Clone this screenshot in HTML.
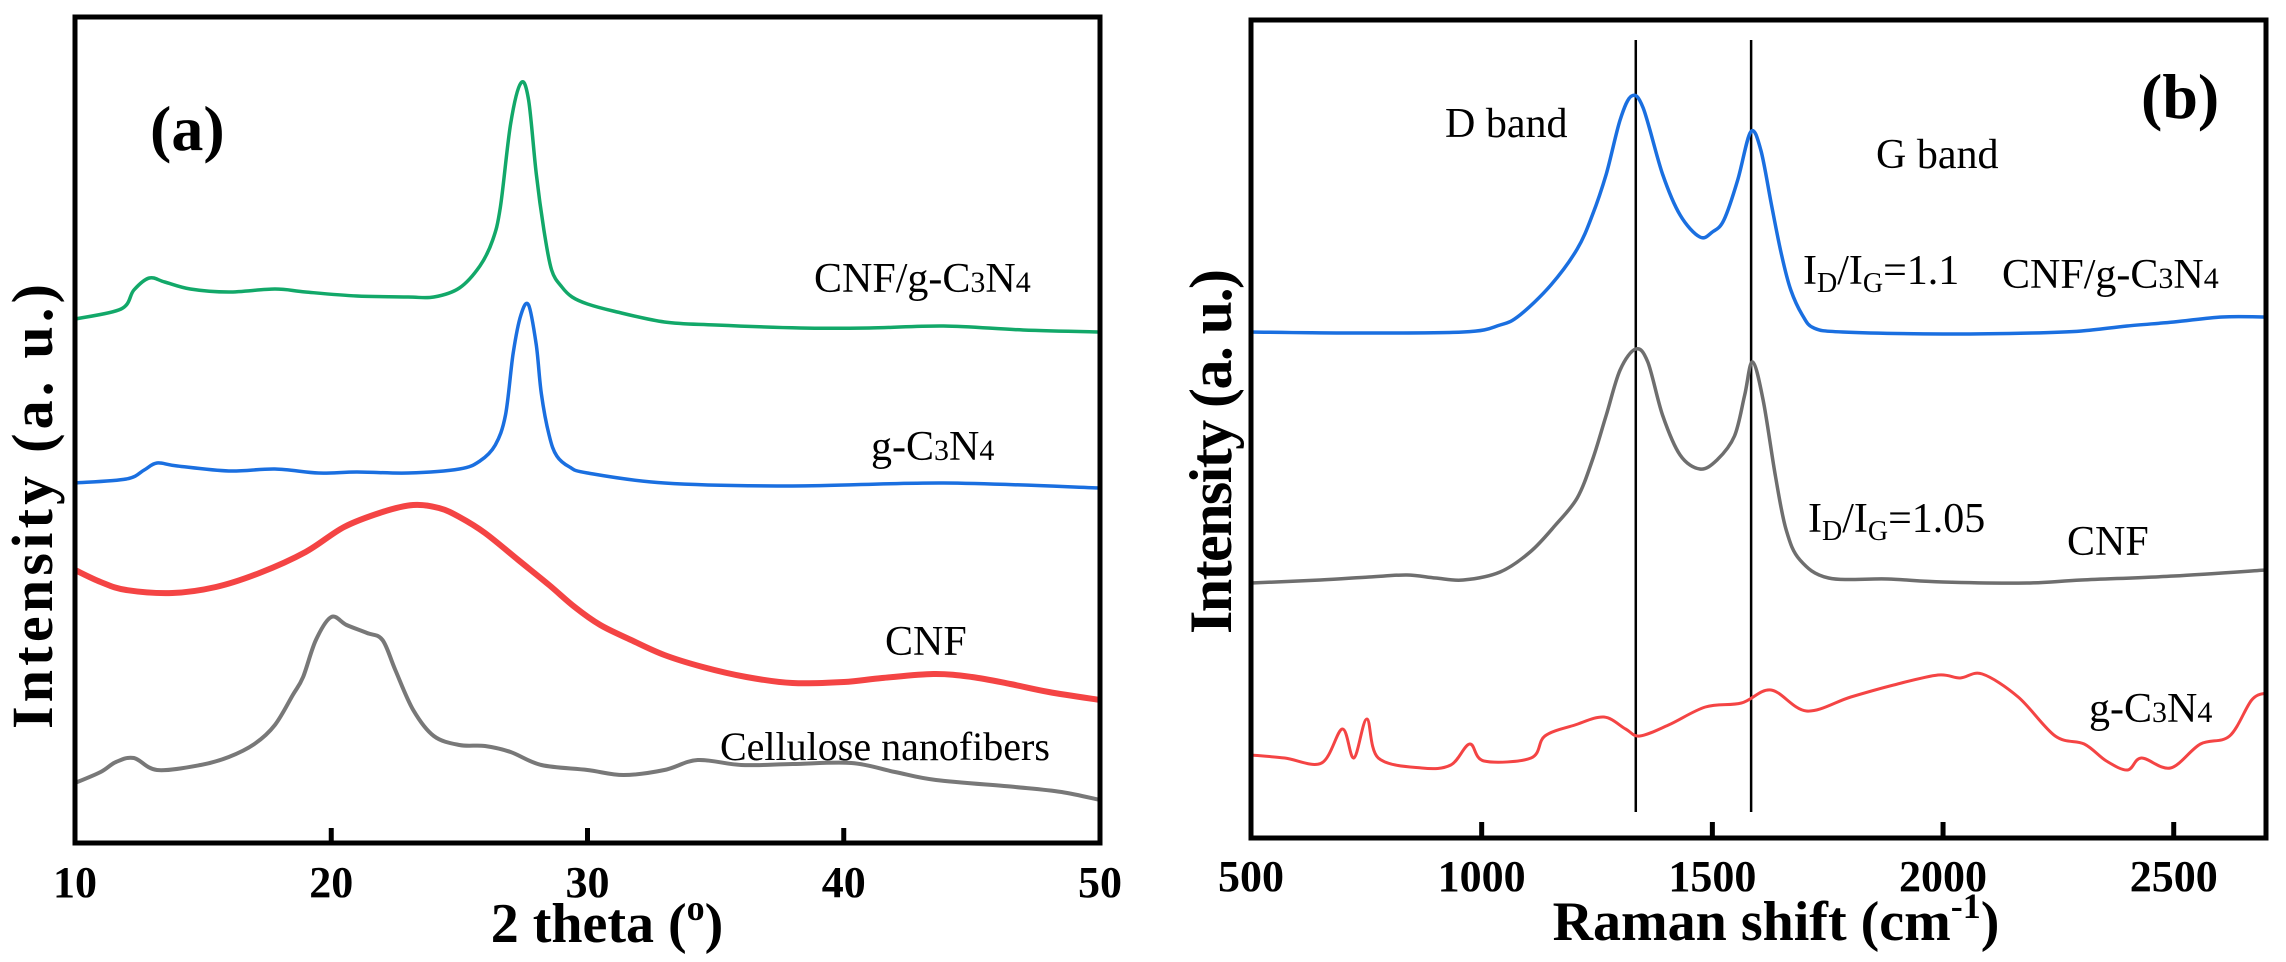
<!DOCTYPE html>
<html><head><meta charset="utf-8">
<style>
html,body{margin:0;padding:0;background:#fff;}
svg{display:block;font-family:"Liberation Serif","Times New Roman",serif;}
</style></head>
<body>
<svg id="fig" width="2286" height="962" viewBox="0 0 2286 962" xmlns="http://www.w3.org/2000/svg">
<g id="panelA"></g>
<g id="panelB"></g>
<!-- panel a text -->
<text x="150" y="150" font-size="64" font-weight="bold">(a)</text>
<text x="814" y="292" font-size="42">CNF/g-C<tspan font-size="30">3</tspan>N<tspan font-size="30">4</tspan></text>
<text x="871" y="460" font-size="42">g-C<tspan font-size="30">3</tspan>N<tspan font-size="30">4</tspan></text>
<text x="885" y="655" font-size="42">CNF</text>
<text x="720" y="760" font-size="40">Cellulose nanofibers</text>
<text x="607" y="942" font-size="56" font-weight="bold" text-anchor="middle">2 theta (<tspan font-size="36" dy="-22">o</tspan><tspan dy="22">)</tspan></text>
<text transform="translate(52,729) rotate(-90)" font-size="58" font-weight="bold" textLength="445" lengthAdjust="spacing">Intensity (a. u.)</text>
<!-- panel b text -->
<text x="2141" y="118" font-size="64" font-weight="bold">(b)</text>
<text x="1445" y="137" font-size="42">D band</text>
<text x="1876" y="168" font-size="42">G band</text>
<text x="1803" y="284" font-size="42">I<tspan font-size="28" dy="8">D</tspan><tspan dy="-8">/I</tspan><tspan font-size="28" dy="8">G</tspan><tspan dy="-8">=1.1</tspan></text>
<text x="2002" y="288" font-size="42">CNF/g-C<tspan font-size="30">3</tspan>N<tspan font-size="30">4</tspan></text>
<text x="1808" y="532" font-size="42">I<tspan font-size="28" dy="8">D</tspan><tspan dy="-8">/I</tspan><tspan font-size="28" dy="8">G</tspan><tspan dy="-8">=1.05</tspan></text>
<text x="2067" y="555" font-size="42">CNF</text>
<text x="2089" y="722" font-size="42">g-C<tspan font-size="30">3</tspan>N<tspan font-size="30">4</tspan></text>
<text x="1776" y="940" font-size="56" font-weight="bold" text-anchor="middle">Raman shift (cm<tspan font-size="36" dy="-22">-1</tspan><tspan dy="22">)</tspan></text>
<text transform="translate(1231,634) rotate(-90)" font-size="60" font-weight="bold" textLength="365" lengthAdjust="spacing">Intensity (a. u.)</text>
</svg>
<script>
// ---- Panel (a) XRD data ----
const aTicks = [10, 20, 30, 40, 50];
const aGreenX = [10,11.8,12.3,12.9,13.5,14.5,16,17.8,19,21,23,24,25,25.8,26.3,26.6,27.0,27.4,27.7,28.0,28.3,28.6,29.0,29.4,30,31,33,35,38.3,41,43.9,47,50];
const aGreenY = [524,534,553,565,561,554,551,554,551,547,546,546,555,577,603,636,719,760,743,669,613,573,556,546,539,532,521,518,515,515,517,513,511];
const aBlueX = [10,12,12.7,13.2,14,16,17.8,19.5,21,23,25,25.8,26.4,26.8,27.1,27.4,27.7,28.0,28.2,28.5,28.8,29.3,30,33,38,43.9,50];
const aBlueY = [360,364,373,380,377,372,374,370,371,370,374,382,398,428,490,528,538,498,449,408,387,376,370,360,357,360,355];
const aRedX = [10,11,12,13.8,15.5,17.2,19,20.5,22,23.2,24.2,25,26,27.3,28.5,29.5,30.5,31.7,33,34.5,36.2,38,40,41.5,43.5,45,46.5,48,50];
const aRedY = [273,261,253,250,256,270,291,316,331,338,335,326,310,283,258,236,218,203,188,176,166,160,161,165,169,166,159,151,143];
const aGrayX = [10,11,11.6,12.3,13.2,14.9,16,17,17.8,18.5,18.9,19.4,20,20.6,21.4,22,22.5,23.2,24,25,26,27,28.2,30,31.4,33,34.3,36,38,40.3,42,43.6,46.7,48.5,50];
const aGrayY = [60,71,81,85,73,78,86,99,118,148,166,203,226,218,210,203,173,133,107,98,97,91,78,73,68,73,83,78,79,80,71,63,56,51,43];
// ---- Panel (b) Raman data ----
const bTicks = [500, 1000, 1500, 2000, 2500];
const bBands = [1334, 1584];
const bBlueX = [500,700,960,1040,1083,1150,1207,1240,1270,1300,1325,1350,1392,1430,1473,1500,1525,1555,1583,1605,1629,1650,1670,1695,1720,1782,2000,2193,2300,2399,2500,2605,2700];
const bBlueY = [506,505,506,513,523,553,589,623,664,718,742,730,664,623,601,606,618,658,706,688,631,583,548,523,510,506,504,505,507,512,516,521,521];
const bGrayX = [500,650,756,838,900,960,1040,1105,1160,1207,1240,1270,1300,1334,1360,1392,1430,1473,1510,1548,1570,1587,1610,1637,1660,1690,1752,1880,2000,2182,2300,2500,2700];
const bGrayY = [255,258,261,263,260,258,266,286,313,340,378,423,468,489,476,423,383,369,378,402,443,476,438,361,308,278,260,259,256,255,258,262,268];
const bRedX = [500,573,653,698,723,751,776,870,933,974,1005,1107,1137,1202,1265,1312,1343,1405,1485,1563,1627,1704,1800,1893,1989,2037,2085,2163,2243,2306,2354,2400,2430,2493,2558,2621,2669,2700];
const bRedY = [83,80,75,109,80,119,80,70,73,94,77,80,102,113,121,109,102,113,131,135,148,127,141,153,163,160,164,141,102,94,77,68,80,70,94,102,138,145];

const NS = 'http://www.w3.org/2000/svg';
// axis functions
const A = {x0:75, x1:1100, y0:17, y1:843, dmin:10, dmax:50};
const B = {x0:1251, x1:2266, y0:20, y1:838, dmin:500, dmax:2700};
function xa(v){ return A.x0 + (v - A.dmin) / (A.dmax - A.dmin) * (A.x1 - A.x0); }
function ya(v){ return A.y1 - v; }
function xb(v){ return B.x0 + (v - B.dmin) / (B.dmax - B.dmin) * (B.x1 - B.x0); }
function yb(v){ return B.y1 - v; }

function smoothPath(pts){
  let d = 'M' + pts[0][0].toFixed(1) + ',' + pts[0][1].toFixed(1);
  for (let i = 0; i < pts.length - 1; i++){
    const p0 = pts[i-1] || pts[i], p1 = pts[i], p2 = pts[i+1], p3 = pts[i+2] || p2;
    const t = 6;
    const c1x = p1[0] + (p2[0]-p0[0])/t, c1y = p1[1] + (p2[1]-p0[1])/t;
    const c2x = p2[0] - (p3[0]-p1[0])/t, c2y = p2[1] - (p3[1]-p1[1])/t;
    d += ' C' + c1x.toFixed(1)+','+c1y.toFixed(1)+' '+c2x.toFixed(1)+','+c2y.toFixed(1)+' '+p2[0].toFixed(1)+','+p2[1].toFixed(1);
  }
  return d;
}
function mk(tag, attrs, parent){
  const el = document.createElementNS(NS, tag);
  for (const k in attrs) el.setAttribute(k, attrs[k]);
  parent.appendChild(el);
  return el;
}
function series(parent, xs, ys, fx, fy, color, w, name){
  const pts = xs.map((v, i) => [fx(v), fy(ys[i])]);
  const p = mk('path', {d: smoothPath(pts), fill:'none', stroke:color, 'stroke-width':w, 'stroke-linejoin':'round'}, parent);
  
  
}

const gA = document.getElementById('panelA');
series(gA, aGrayX, aGrayY, xa, ya, '#787878', 4, 'series-cellulose-nanofibers');
series(gA, aRedX, aRedY, xa, ya, '#f44444', 6, 'series-cnf-a');
series(gA, aBlueX, aBlueY, xa, ya, '#1a6fe0', 3.5, 'series-gc3n4-a');
series(gA, aGreenX, aGreenY, xa, ya, '#12a869', 3.5, 'series-cnf-gc3n4-a');
const frameA = mk('rect', {x:A.x0, y:A.y0, width:A.x1-A.x0, height:A.y1-A.y0, fill:'none', stroke:'#000', 'stroke-width':5}, gA);


aTicks.forEach(v => {
  const x = xa(v);
  if (v !== A.dmin && v !== A.dmax){
    const t = mk('line', {x1:x, x2:x, y1:A.y1, y2:A.y1-15, stroke:'#000', 'stroke-width':5}, gA);
    
    
  }
  const lb = mk('text', {x:x, y:897, 'font-size':44, 'font-weight':'bold', 'text-anchor':'middle'}, gA);
  lb.textContent = v;
  
  
});

const gB = document.getElementById('panelB');
bBands.forEach(v => {
  const l = mk('line', {x1:xb(v), x2:xb(v), y1:40, y2:812, stroke:'#000', 'stroke-width':2.5}, gB);
  
  
});
series(gB, bRedX, bRedY, xb, yb, '#f44444', 3, 'series-gc3n4-b');
series(gB, bGrayX, bGrayY, xb, yb, '#6e6e6e', 3.5, 'series-cnf-b');
series(gB, bBlueX, bBlueY, xb, yb, '#1a6fe0', 3.5, 'series-cnf-gc3n4-b');
const frameB = mk('rect', {x:B.x0, y:B.y0, width:B.x1-B.x0, height:B.y1-B.y0, fill:'none', stroke:'#000', 'stroke-width':5}, gB);


bTicks.forEach(v => {
  const x = xb(v);
  if (v !== B.dmin){
    const t = mk('line', {x1:x, x2:x, y1:B.y1, y2:B.y1-16, stroke:'#000', 'stroke-width':5}, gB);
    
    
  }
  const lb = mk('text', {x:x, y:891, 'font-size':44, 'font-weight':'bold', 'text-anchor':'middle'}, gB);
  lb.textContent = v;
  
  
});
</script>
</body></html>
